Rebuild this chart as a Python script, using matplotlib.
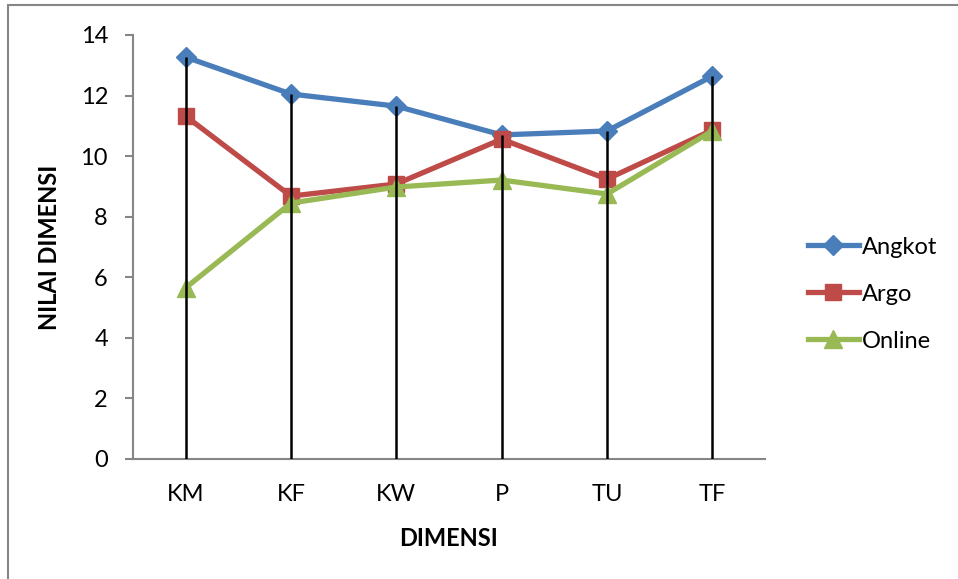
import numpy as np
import matplotlib.pyplot as plt
from matplotlib.patches import Rectangle

plt.rcParams['font.family'] = ['Lato', 'DejaVu Sans']

dimensi = ['KM', 'KF', 'KW', 'P', 'TU', 'TF']
angkot = [13.27, 12.05, 11.65, 10.70, 10.83, 12.64]
argo = [11.32, 8.68, 9.08, 10.56, 9.24, 10.86]
online = [5.65, 8.45, 8.98, 9.21, 8.75, 10.83]

fig = plt.figure(figsize=(9.58, 5.79), dpi=100)
ax = fig.add_axes([0.1388, 0.2073, 0.7985 - 0.1388, 0.9396 - 0.2073])

x = np.arange(len(dimensi))
l1, = ax.plot(x, angkot, color='#4A7EBB', lw=3.8, marker='D', ms=10,
              label='Angkot', zorder=3)
l2, = ax.plot(x, argo, color='#BE4B48', lw=3.8, marker='s', ms=12,
              label='Argo', zorder=4)
l3, = ax.plot(x, online, color='#98B954', lw=3.8, marker='^', ms=13,
              label='Online', zorder=5)

# garis vertikal dari nilai tertinggi ke sumbu
tinggi = np.max([angkot, argo, online], axis=0)
ax.vlines(x, 0, tinggi, colors='black', lw=1.8, zorder=6)

ax.set_xlim(-0.5, len(dimensi) - 0.5)
ax.set_ylim(0, 14)
ax.set_yticks(range(0, 15, 2))
ax.set_xticks(x)
ax.set_xticklabels(dimensi)

for s in ['top', 'right']:
    ax.spines[s].set_visible(False)
for s in ['left', 'bottom']:
    ax.spines[s].set_color('#868686')
    ax.spines[s].set_linewidth(1.5)
ax.tick_params(axis='y', direction='out', length=6, width=1.5, color='#868686',
               labelsize=17, pad=12)
ax.tick_params(axis='x', length=0, labelsize=17, pad=18)

ax.set_ylabel('NILAI DIMENSI', fontsize=17, fontweight='bold', labelpad=14)
ax.set_xlabel('DIMENSI', fontsize=17, fontweight='bold', labelpad=16)

leg = fig.legend(handles=[l1, l2, l3], loc='center left',
                 bbox_to_anchor=(0.838, 0.492), frameon=False, fontsize=17,
                 handlelength=2.2, handletextpad=0.1, labelspacing=1.1,
                 borderpad=0.2, borderaxespad=0)

# bingkai luar
fig.patches.append(Rectangle((0.008, -0.05), 1.2, 1.042, transform=fig.transFigure,
                             fill=False, edgecolor='#868686', lw=1.5))

fig.savefig('out.png', dpi=100)
